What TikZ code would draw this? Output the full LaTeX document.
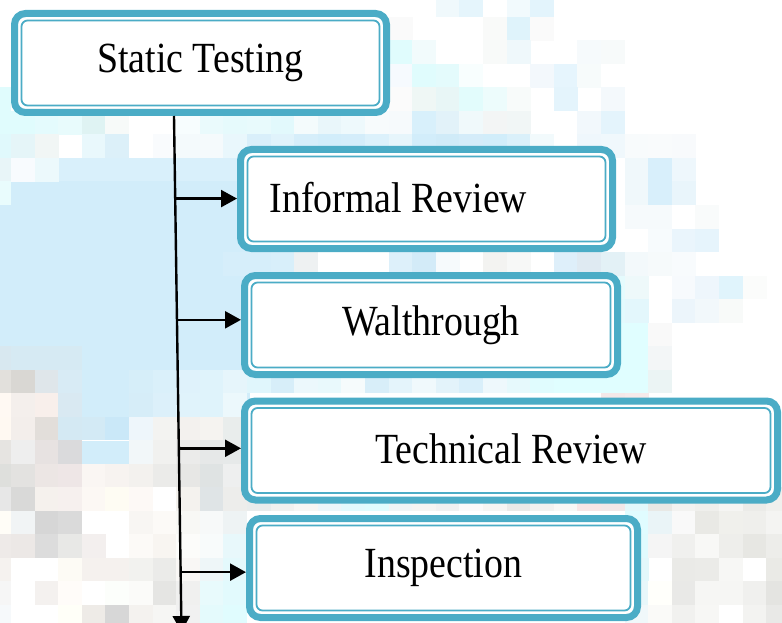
\documentclass[tikz,border=0pt]{standalone}
\usepackage{fontspec}
\setmainfont{Liberation Serif}[FakeStretch=0.88]
\usetikzlibrary{arrows.meta,calc}

\definecolor{rimblue}{HTML}{4BACC6}
\definecolor{bgblue}{HTML}{D2EDFA}

\tikzstyle{stage} = [draw=rimblue, line width=7pt, outer sep=3.5pt, rounded corners=11pt,
  fill=white, minimum height=99pt, inner sep=0pt, font=\fontsize{43}{50}\selectfont]
\tikzstyle{inner rim} = [draw=rimblue, line width=1.8pt, rounded corners=6pt]
\tikzstyle{link} = [draw, line width=2.4pt, -{Triangle[length=16pt,width=17pt]}]

\begin{document}
\begin{tikzpicture}[x=1pt, y=-1pt]
    \useasboundingbox (0,0) rectangle (782,623);
    \clip (0,0) rectangle (782,623);
    % Background mosaic
    \fill[bgblue!85!white] (58,158) rectangle (250,182);
    \fill[bgblue] (11,181) rectangle (250,205);
    \fill[bgblue] (0,205) rectangle (250,371);
    \fill[bgblue] (82,371) rectangle (250,418);
    \fill[bgblue] (82,441) rectangle (130,465);
    \foreach \c/\r/\h in {
        19/0/F0F9FC,20/0/E5F5FC,22/0/F2FAFD,23/0/E3F4FC,17/1/FAFAFA,21/1/F9FAF9,22/1/DFF3FB,23/1/FAFAFA,
        17/2/E0FCFD,18/2/F2FBFC,21/2/F8FAF9,22/2/EFF8FB,25/2/F6FAFC,26/2/F7FAFA,
        17/3/F6FAFE,18/3/E0FCFD,19/3/E4FBFC,20/3/F8FEFE,23/3/F3F8FC,24/3/E6F5FD,25/3/F7FBFB,
        0/4/E0FCFD,17/4/FBFBFB,18/4/EFF7F5,19/4/E8F6F6,20/4/E2FCFC,21/4/EDFCFC,22/4/F8FBFA,24/4/E4F4FC,26/4/F4F9FC,
        0/5/E0FCFD,1/5/E0FCFD,2/5/E4FBFD,3/5/E8FBFC,4/5/DFF3F3,5/5/F7FAF9,8/5/F7FDFE,9/5/EAFAFC,10/5/E6FAFC,
        11/5/E8FAFC,12/5/E2F9FC,13/5/F4FBFC,14/5/E9F6FA,15/5/EEF9FC,16/5/F7FBFC,17/5/F6FAFC,18/5/D8F0FB,
        19/5/E2F2F9,20/5/F0F9FB,21/5/F3F5F5,22/5/F1F6F6,25/5/F2F8FC,26/5/E4F4FC,
        0/6/E0F9FC,1/6/E5F5F8,2/6/F1F6F5,4/6/E9F8FC,5/6/DCF0F9,7/6/F9FBFD,8/6/F4FAFC,9/6/F5FAFC,10/6/E9F7FC,
        11/6/D9EFFA,12/6/E0F3FB,13/6/D6EEFA,14/6/D2EDFA,15/6/D4EDFA,16/6/DCF1FB,17/6/E6F5FB,18/6/D2EDFA,
        19/6/D0EBF8,20/6/D4ECF9,21/6/D1EDFA,22/6/DAF0FA,23/6/F2FAFC,25/6/EFF7FC,26/6/F0F8FC,27/6/F8FBFC,
        28/6/F9FBFC,29/6/F8FAFC,
        0/7/E8F5F8,1/7/F8FBFE,2/7/ECF9FC,27/7/F0F8FB,28/7/D8EFFB,29/7/EEF7FC,
        0/8/E9FCFD,27/8/F0F8FB,28/8/D8EFFB,29/8/E9F5FB,
        27/9/F6FAFC,28/9/F6FAFC,30/9/F9FBFB,28/10/F7FBFD,29/10/EAF5FC,30/10/E6F4FC,
        10/11/D6EEFA,11/11/D6EEFA,12/11/D8EFFA,13/11/EEF1F2,17/11/DDF0FA,18/11/D3EBF8,19/11/F6FAFC,
        21/11/F3F3F1,22/11/F7F8F7,24/11/DEEFFA,25/11/DFEAF2,26/11/E3F1F6,27/11/F3F9FB,28/11/F6FAFB,29/11/F8FBFD,
        26/12/E5FBFD,27/12/EEF9FA,29/12/F7FAFD,30/12/EEF6FC,31/12/E0F4FC,32/12/FBFCFB,
        26/13/E2FAFD,27/13/E3F7FC,29/13/ECF5FB,30/13/F2F8FB,31/13/F8FAF9,
        26/14/E0FEFF,27/14/E0FEFF,28/14/F9F9F9,
        0/15/D8E8F0,1/15/D6EAF3,2/15/D6EAF3,3/15/D6EAF3,26/15/E0FEFF,27/15/E0FEFF,28/15/F3F6F7,
        0/16/E2E0DC,1/16/D9D7D3,2/16/DFE6EA,3/16/D8EBF5,6/16/D6EEF9,7/16/DAF0FA,8/16/DFF2FB,9/16/DFF3FB,
        10/16/E6F5FB,11/16/E0F6FC,12/16/D7EEF9,13/16/ECF8FC,14/16/E9F9FC,15/16/F6FBFC,16/16/D8EEF9,
        17/16/E4F4FB,18/16/F0F9FC,19/16/E3F3FA,20/16/D9EFFA,21/16/EEF8FC,22/16/E6F9FC,23/16/E0FCFE,
        24/16/E0FEFF,25/16/E0FEFF,26/16/E0FEFF,27/16/E0FEFF,28/16/EBF4F4,
        0/17/FFF9F3,1/17/F4EFEC,2/17/F8EFEB,3/17/D9E9F2,6/17/D6EDF8,7/17/DCF0FA,8/17/E0F3FB,9/17/DFF3FB,
        10/17/ECF8FC,26/17/F4E8E8,27/17/F6EAEA,
        0/18/FFF9F2,1/18/F3EEEB,2/18/E2DEDA,3/18/D4E9F3,4/18/D3EAF5,5/18/CAE8F8,6/18/EEF6FB,7/18/F3F3F1,
        8/18/F3F1EE,9/18/F5F3F0,10/18/E9EDEC,
        0/19/E6E4E1,1/19/EEEEEE,2/19/E7E2E1,3/19/DADADC,6/19/F2F7F9,7/19/F1F1EF,8/19/EBEBEA,9/19/E6E8E8,10/19/E6E9E9,
        0/20/DEDFDC,1/20/E3E2E0,2/20/ECE6E4,3/20/EEE6E6,4/20/FAF6F3,5/20/F7F3F0,6/20/F3F1EE,7/20/EBEBE9,
        8/20/E7E7E5,9/20/DFE3E3,10/20/EEEFEF,
        0/21/E7E7E7,1/21/D9D9D8,2/21/F5F1ED,3/21/F6F0EE,4/21/FCF8F4,5/21/FEFCF3,6/21/FDF9F6,8/21/F4F2EE,
        9/21/DFE4E6,10/21/EDEDEB,11/21/E9ECEC,12/21/F1F1EF,13/21/F6F6F4,14/21/ECF6FA,15/21/E2FAFD,16/21/E0FCFE,
        17/21/F1F5F6,18/21/F5F5F3,19/21/F1F1F1,20/21/FAFAFA,21/21/F5F5F3,22/21/EAEAE8,23/21/F2F2F0,24/21/F8F8F6,
        25/21/F8E6E6,26/21/F3E8E8,27/21/E3F8FB,28/21/E8E8E5,29/21/F2F2F0,30/21/EFEFEC,31/21/F5F5F3,32/21/EBEBE8,33/21/F0F0ED,
        0/22/FFFDF7,1/22/F1F4F5,2/22/D6D6D6,3/22/DADADA,6/22/F8F6F3,7/22/FCFAF7,8/22/F8F8F5,9/22/F7F9F9,10/22/EEF3F4,
        27/22/E0FCFF,28/22/EAF4F7,29/22/F9F9F9,30/22/E9E9E5,31/22/F0F0EC,32/22/EFEFEC,33/22/F4F4F2,
        0/23/EEEAE8,1/23/ECE8E6,2/23/DCDCDC,3/23/E8E8E6,4/23/F3EFEE,6/23/FCFAF7,7/23/F8F5F1,8/23/FCFCFA,9/23/F8FBFB,
        10/23/E8F8FB,27/23/E0FBFE,28/23/F5F5F5,29/23/F0F0EE,30/23/F8F8F6,31/23/EEEEEB,32/23/E7E7E3,33/23/EDEDEA,
        0/24/F5F2EF,3/24/FDFBF5,4/24/F5F1EE,5/24/F5F1EE,6/24/F2F2EF,7/24/EBEBE9,8/24/F9F7F5,9/24/EEF6F8,10/24/E4F9FC,
        27/24/E3F8FB,29/24/EAEAE7,30/24/EBEBE8,31/24/F7F7F5,33/24/EAEAE6,
        0/25/F6F6F6,2/25/F4F1EF,3/25/FFFCF9,5/25/FCFEFB,6/25/FBFBF9,7/25/E5E5E3,8/25/F0F0EF,9/25/E8FAFC,10/25/E2FAFD,
        27/25/E7F7FA,28/25/FFFFFB,29/25/E9E9E7,30/25/F6F6F4,31/25/F6F6F4,32/25/F0F0EE,33/25/E4E4E1,
        0/26/F6F9FB,3/26/FFFFF8,4/26/EEEBE7,5/26/D7D7D7,6/26/F4F2EF,7/26/F6F6F4,8/26/F1F1F1,9/26/E4FAFC,10/26/E0FCFE,
        27/26/F0F8FA,28/26/FAFAF8,29/26/F1F1EF,30/26/F7F7F5,32/26/F3F3F1,33/26/E9E9E7}
    {\definecolor{cellc}{HTML}{\h}
     \fill[cellc] ({-12.6+23.6*\c},{-6.5+23.5*\r}) rectangle ++(23.9,23.8);}
    % Draw the boxes
    \foreach \pos/\name/\boxw/\txt in {{(200.5,63)/static/372/Static Testing},
        {(426.5,199)/informal/372/\raisebox{4pt}{Informal Review}\hspace*{56pt}},
        {(431,325)/walk/373/Walthrough},
        {(511,450.5)/technical/533/\raisebox{3pt}{Technical Review}},
        {(443.5,568)/inspection/388/Inspection}}
    \node[stage, minimum width=\boxw pt] (\name) at \pos {\txt};
    \foreach \name in {static,informal,walk,technical,inspection}
    \draw[inner rim] ([xshift=10.5pt,yshift=-10.5pt]\name.north west) rectangle
        ([xshift=-10.5pt,yshift=10.5pt]\name.south east);
    % The spine and its branches
    \coordinate (spine top) at ([xshift=-26.5pt]static.south);
    \coordinate (spine end) at (181.5,632);
    \path[link] (spine top) -- (spine end);
    \foreach \fr/\dest in {0.16/informal, 0.395/walk, 0.644/technical, 0.884/inspection}
    \coordinate (fork \dest) at ($(spine top)!\fr!(spine end)$);
    \foreach \dest in {informal,walk,technical,inspection}
    \path[link] (fork \dest) -- (fork \dest -| \dest.west);
\end{tikzpicture}
\end{document}
